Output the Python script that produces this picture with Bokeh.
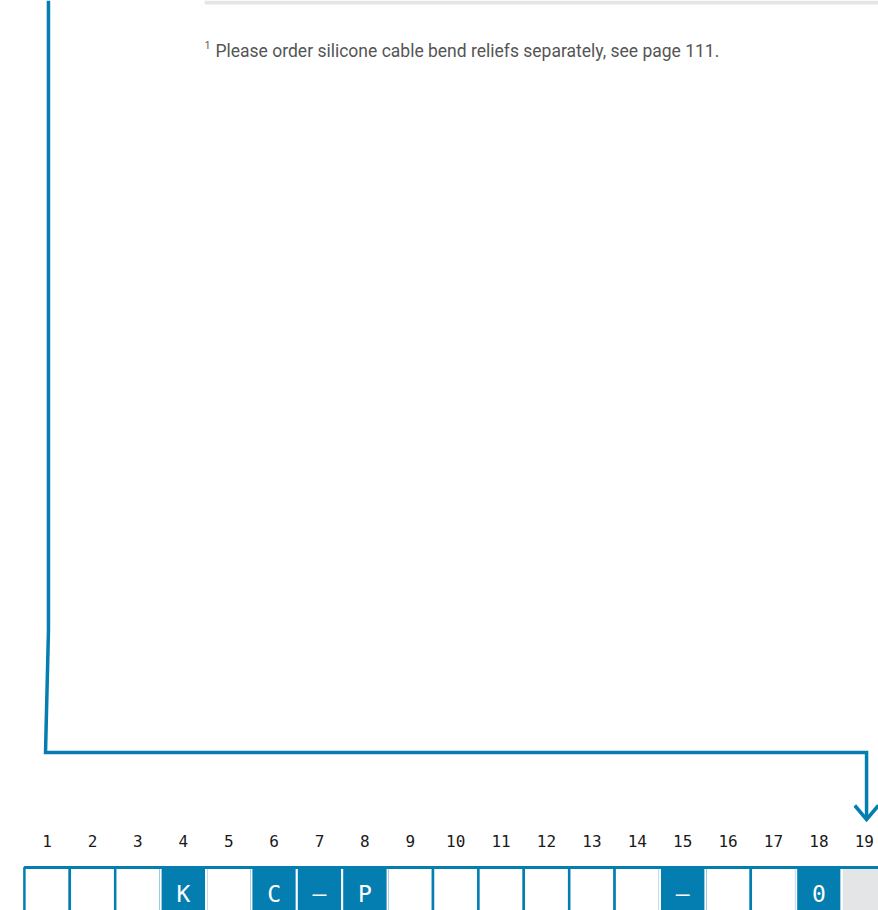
from bokeh.plotting import figure
from bokeh.models import Range1d, ColumnDataSource, CDSView, IndexFilter
from bokeh.core.properties import value
from bokeh.embed import file_html
from bokeh.resources import INLINE

# ---- data ----
positions = list(range(1, 20))
position_labels = [str(i) for i in positions]
codes = ["", "", "", "K", "", "C", "–", "P", "", "", "", "", "", "", "–", "", "", "0", ""]
cell_state = ["open", "open", "open", "fixed", "open", "fixed", "fixed", "fixed", "open", "open",
              "open", "open", "open", "open", "fixed", "open", "open", "fixed", "na"]
footnote = "Please order silicone cable bend reliefs separately, see page 111."
footnote_mark = "1"

# guide line from the configuration area down to position 19
guide_x = [1.03, 1.03, 0.965, 19.05, 19.05]
guide_y = [0, 630, 752, 752, 818]
arrow_x = [18.79, 19.05, 19.31]
arrow_y = [805, 819, 805]

BLUE = "#047db0"
GREY = "#e4e5e7"

W, H = 878, 910
x0 = 1 - 46.6 / 45.4
p = figure(width=W, height=H, output_backend="svg", toolbar_location=None,
           x_range=Range1d(x0, x0 + W / 45.4), y_range=Range1d(H, 0),
           min_border=0, min_border_left=0, min_border_right=0,
           min_border_top=0, min_border_bottom=0)
p.axis.visible = False
p.grid.visible = False
p.outline_line_color = None
p.background_fill_color = "white"
p.border_fill_color = "white"

# grey band above the footnote
p.quad(left=[4.47], right=[19.4], top=[0], bottom=[4], fill_color=GREY, line_color=None)

# footnote
p.text(x=[4.47], y=[44], text=[footnote_mark], text_font=value("Roboto"),
       text_font_size="10px", text_color="#555555", text_baseline="alphabetic")
p.text(x=[4.709], y=[50], text=[footnote], text_font=value("Roboto"),
       text_font_size="17.5px", text_color="#555555", text_baseline="alphabetic")

# guide line and arrow
p.line(guide_x, guide_y, line_color=BLUE, line_width=3.5, line_join="miter")
p.line(arrow_x, arrow_y, line_color=BLUE, line_width=3.5, line_join="miter")

# position numbers
p.text(x=positions, y=[840] * len(positions), text=position_labels,
       text_font=value("DejaVu Sans Mono"), text_font_size="16px", text_color="#1a1a1a",
       text_align="center", text_baseline="middle")

# cells
fill = [BLUE if s == "fixed" else (GREY if s == "na" else "white") for s in cell_state]
edge = ["white" if s != "open" else BLUE for s in cell_state]
src = ColumnDataSource(dict(left=[i - 0.5 for i in positions], right=[i + 0.5 for i in positions],
                            top=[867] * len(positions), bottom=[940] * len(positions),
                            fill=fill, edge=edge))
open_idx = [i for i, s in enumerate(cell_state) if s == "open"]
other_idx = [i for i, s in enumerate(cell_state) if s != "open"]
p.quad(left="left", right="right", top="top", bottom="bottom", source=src,
       view=CDSView(filter=IndexFilter(open_idx)),
       fill_color="fill", line_color="edge", line_width=2.5)
p.quad(left="left", right="right", top="top", bottom="bottom", source=src,
       view=CDSView(filter=IndexFilter(other_idx)),
       fill_color="fill", line_color="edge", line_width=2)
# top border of the code row
p.segment(x0=[positions[0] - 0.5], x1=[positions[-1] + 0.5], y0=[867], y1=[867],
          line_color=BLUE, line_width=3)

p.text(x=positions, y=[893] * len(positions), text=codes,
       text_font=value("DejaVu Sans Mono"), text_font_size="23px", text_color="white",
       text_align="center", text_baseline="middle")

open("out.html", "w").write(file_html(p, INLINE))
